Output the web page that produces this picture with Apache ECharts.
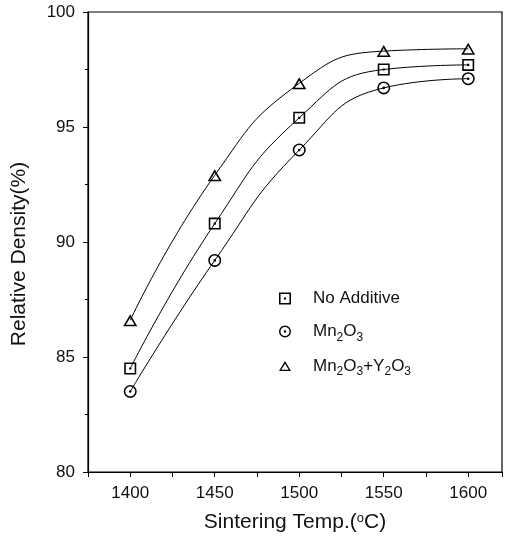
<!DOCTYPE html>
<html><head><meta charset="utf-8">
<script src="https://cdn.jsdelivr.net/npm/echarts@6/dist/echarts.min.js"></script>
<style>html,body{margin:0;padding:0;background:#fff}#c{width:506px;height:541px}</style>
</head><body><div id="c"></div>
<script>
const temps = [1400, 1450, 1500, 1550, 1600];
const noAdditive = [84.5, 90.8, 95.4, 97.5, 97.7];
const mn2o3 = [83.5, 89.2, 94.0, 96.7, 97.1];
const mn2o3y2o3 = [86.6, 92.9, 96.9, 98.3, 98.4];
const seriesNames = ['No Additive', 'Mn2O3', 'Mn2O3+Y2O3'];
const xTickLabels = [1400, 1450, 1500, 1550, 1600];
const yTickLabels = [80, 85, 90, 95, 100];

const SQ = 'path://M0,0 H10 V10 H0 Z M1.3,1.3 V8.7 H8.7 V1.3 Z M4.1,4.1 H5.9 V5.9 H4.1 Z';
const CI = 'path://M5,0 A5,5 0 1,1 5,10 A5,5 0 1,1 5,0 Z M5,1.2 A3.8,3.8 0 1,0 5,8.8 A3.8,3.8 0 1,0 5,1.2 Z M5,4 A1,1 0 1,1 5,6 A1,1 0 1,1 5,4 Z';
const TR = 'path://M5,0 L10,8.5 L0,8.5 Z M5,2.3 L1.9,7.4 L8.1,7.4 Z';
const symbols = [SQ, CI, TR];
const sizes = [[12, 12], [13, 13], [14, 12]];
const dataSets = [noAdditive, mn2o3, mn2o3y2o3];

const chart = echarts.init(document.getElementById('c'), null, {renderer: 'canvas'});
const font = 'Liberation Sans, Arial, sans-serif';
chart.setOption({
  animation: false,
  backgroundColor: '#fff',
  grid: {left: 88, top: 12, right: 4, bottom: 69, show: true, borderColor: '#000', borderWidth: 1.2},
  legend: {
    orient: 'vertical', left: 274, top: 283, itemWidth: 12, itemHeight: 12, itemGap: 12,
    data: seriesNames.map((n, i) => ({name: n, icon: symbols[i]})),
    itemStyle: {color: '#000', borderWidth: 0},
    textStyle: {fontFamily: font, fontSize: 17, color: '#111', lineHeight: 21, padding: [0, 0, 0, 17],
      rich: {sub: {fontFamily: font, fontSize: 12, color: '#111', padding: [12, 0, 0, 0]}}},
    formatter: n => n.replace(/(\d)/g, '{sub|$1}')
  },
  xAxis: {
    type: 'value', min: 1375, max: 1620, interval: 25,
    name: 'Sintering Temp.({sup|o}C)', nameLocation: 'middle', nameGap: 40,
    nameTextStyle: {fontFamily: font, fontSize: 21, color: '#111',
      rich: {sup: {fontFamily: font, fontSize: 13, color: '#111', padding: [0, 0, 8, 0]}}},
    axisLine: {lineStyle: {color: '#000', width: 1.2}},
    axisTick: {inside: false, length: 5, lineStyle: {color: '#000'}},
    axisLabel: {fontFamily: font, fontSize: 17, color: '#111', margin: 13,
      formatter: v => xTickLabels.includes(v) ? String(v) : ''},
    splitLine: {show: false}
  },
  yAxis: {
    type: 'value', min: 80, max: 100, interval: 5,
    name: 'Relative Density(%)', nameLocation: 'middle', nameGap: 58,
    nameTextStyle: {fontFamily: font, fontSize: 21, color: '#111', padding: [0, 24, 0, 0]},
    axisLine: {lineStyle: {color: '#000', width: 1.2}},
    axisTick: {inside: false, length: 5, lineStyle: {color: '#000'}},
    minorTick: {show: true, splitNumber: 2, length: 3, lineStyle: {color: '#000'}},
    axisLabel: {fontFamily: font, fontSize: 17, color: '#111', margin: 13,
      formatter: v => yTickLabels.includes(v) ? String(v) : ''},
    splitLine: {show: false}
  },
  series: dataSets.map((d, i) => ({
    name: seriesNames[i], type: 'line', smooth: 0.5,
    data: temps.map((t, j) => [t, d[j]]),
    symbol: symbols[i], symbolSize: sizes[i],
    itemStyle: {color: '#000'},
    lineStyle: {color: '#000', width: 1}
  }))
});
</script></body></html>
